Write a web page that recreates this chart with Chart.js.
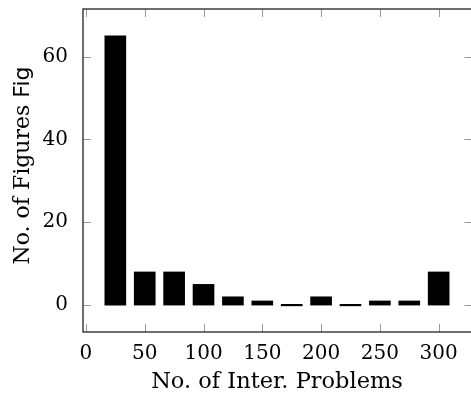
<!DOCTYPE html>
<html>
<head>
<meta charset="utf-8">
<script src="https://cdn.jsdelivr.net/npm/chart.js@4.4.1/dist/chart.umd.min.js"></script>
<style>
  html, body { margin: 0; padding: 0; background: #fff; }
  #wrap { width: 471px; height: 394px; }
</style>
</head>
<body>
<div id="wrap"><canvas id="c" width="471" height="394"></canvas></div>
<script>
// Histogram: how many figures fall into each interaction-problem bin
const binCenters = [25, 50, 75, 100, 125, 150, 175, 200, 225, 250, 275, 300];
const figureCounts = [65, 8, 8, 5, 2, 1, 0, 2, 0, 1, 1, 8];
const xTickValues = [0, 50, 100, 150, 200, 250, 300];
const yTickValues = [0, 20, 40, 60];

const xTitle = 'No. of Inter. Problems';
const yTitleSerif = 'No. of Figures ';
const yTitleSans = 'Fig';

const serif = '"DejaVu Serif", serif';
const sans = '"DejaVu Sans", sans-serif';

// Frame with inward ticks on all four sides, plus the rotated y title
const framePlugin = {
  id: 'frame',
  afterDraw(chart) {
    const { ctx, chartArea: a, scales } = chart;
    const tickLen = 8;
    // the right edge of the box sits just past the canvas edge
    const rightEdge = a.right + 1.5;
    ctx.save();
    ctx.strokeStyle = '#9a9a9a';
    ctx.lineWidth = 1;
    scales.x.ticks.forEach(t => {
      const px = Math.round(scales.x.getPixelForValue(t.value)) + 0.5;
      ctx.beginPath();
      ctx.moveTo(px, a.bottom); ctx.lineTo(px, a.bottom - tickLen);
      ctx.moveTo(px, a.top); ctx.lineTo(px, a.top + tickLen);
      ctx.stroke();
    });
    scales.y.ticks.forEach(t => {
      const py = Math.round(scales.y.getPixelForValue(t.value)) + 0.5;
      ctx.beginPath();
      ctx.moveTo(a.left, py); ctx.lineTo(a.left + tickLen, py);
      ctx.moveTo(rightEdge, py); ctx.lineTo(rightEdge - tickLen, py);
      ctx.stroke();
    });
    ctx.strokeStyle = '#222';
    ctx.lineWidth = 1.3;
    ctx.strokeRect(a.left, a.top, rightEdge - a.left, a.bottom - a.top);

    // y-axis title, serif part followed by a sans-serif part
    const fSerif = '22px ' + serif;
    const fSans = '22px ' + sans;
    ctx.font = fSerif;
    const w1 = ctx.measureText(yTitleSerif).width;
    ctx.font = fSans;
    const w2 = ctx.measureText(yTitleSans).width;
    const total = w1 + w2;
    const cy = (a.top + a.bottom) / 2 - 5;
    ctx.translate(23, cy);
    ctx.rotate(-Math.PI / 2);
    ctx.fillStyle = '#000';
    ctx.textBaseline = 'middle';
    ctx.textAlign = 'left';
    ctx.font = fSerif;
    ctx.fillText(yTitleSerif, -total / 2, 0);
    ctx.font = fSans;
    ctx.fillText(yTitleSans, -total / 2 + w1, 0);
    ctx.restore();
  }
};

new Chart(document.getElementById('c'), {
  type: 'bar',
  data: {
    datasets: [{
      data: binCenters.map((b, i) => ({ x: b, y: figureCounts[i] })),
      backgroundColor: '#000',
      borderWidth: 0,
      barThickness: 21,
      minBarLength: 1.5
    }]
  },
  options: {
    responsive: false,
    animation: false,
    events: [],
    layout: { padding: { top: 9, right: 0, bottom: 0, left: 0 } },
    plugins: { legend: { display: false }, tooltip: { enabled: false } },
    scales: {
      x: {
        type: 'linear',
        offset: false,
        min: -2.5,
        max: 327.5,
        grid: { display: false },
        border: { display: false },
        afterBuildTicks: s => { s.ticks = xTickValues.map(v => ({ value: v })); },
        afterFit: s => { s.height = 62; s.paddingLeft = 0; s.paddingRight = 0; },
        ticks: {
          color: '#000',
          padding: 2,
          maxRotation: 0,
          font: { family: serif, size: 20 }
        },
        title: {
          display: true,
          text: xTitle,
          color: '#000',
          padding: { top: 0, bottom: -2 },
          font: { family: serif, size: 22.5 }
        }
      },
      y: {
        min: -6.5,
        max: 71.5,
        grid: { display: false },
        border: { display: false },
        afterBuildTicks: s => { s.ticks = yTickValues.map(v => ({ value: v })); },
        afterFit: s => { s.width = 83; s.paddingTop = 0; s.paddingBottom = 0; },
        ticks: {
          color: '#000',
          padding: 7,
          font: { family: serif, size: 20 }
        }
      }
    }
  },
  plugins: [framePlugin]
});
</script>
</body>
</html>
